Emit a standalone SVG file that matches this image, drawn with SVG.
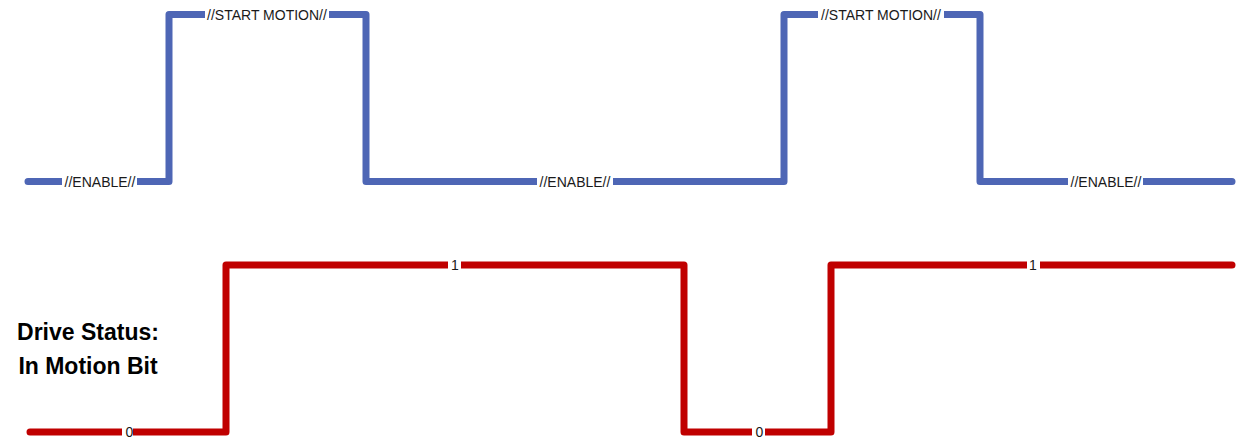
<svg xmlns="http://www.w3.org/2000/svg" width="1236" height="438" viewBox="0 0 1236 438">
<style>
.sig{fill:none;stroke-width:7;stroke-linecap:round;stroke-linejoin:round}
.blue{stroke:#4E66B5}
.red{stroke:#C00000}
.gap{fill:#fff}
.lbl{font-family:"Liberation Sans",Arial,sans-serif;font-size:14px;fill:#1a1a1a;text-anchor:middle}
.title{font-family:"Liberation Sans",Arial,sans-serif;font-size:23px;font-weight:bold;fill:#000;text-anchor:middle}
</style>
<rect width="1236" height="438" fill="#fff"/>
<g id="connectors">
<path id="motion-signal" class="sig blue" d="M28 181.5 H169 V14.5 H366 V181.5 H784 V14.5 H980 V181.5 H1232"/>
<path id="in-motion-bit" class="sig red" d="M30 432 H226 V265 H684 V432 H831 V265 H1232"/>
</g>
<g id="label-enable-1"><rect class="gap" x="62" y="175" width="75" height="14"/><text class="lbl" x="100" y="187">//ENABLE//</text></g>
<g id="label-start-1"><rect class="gap" x="205" y="8" width="124" height="14"/><text class="lbl" x="267" y="20">//START MOTION//</text></g>
<g id="label-enable-2"><rect class="gap" x="537" y="175" width="76" height="14"/><text class="lbl" x="575" y="187">//ENABLE//</text></g>
<g id="label-start-2"><rect class="gap" x="818" y="8" width="126" height="14"/><text class="lbl" x="881" y="20">//START MOTION//</text></g>
<g id="label-enable-3"><rect class="gap" x="1068" y="175" width="75" height="14"/><text class="lbl" x="1106" y="187">//ENABLE//</text></g>
<g id="label-0-1"><rect class="gap" x="122" y="426" width="11" height="12"/><text class="lbl" x="129.5" y="437">0</text></g>
<g id="label-1-1"><rect class="gap" x="448" y="259" width="13" height="12"/><text class="lbl" x="455" y="270">1</text></g>
<g id="label-0-2"><rect class="gap" x="752" y="426" width="13" height="12"/><text class="lbl" x="759.5" y="437">0</text></g>
<g id="label-1-2"><rect class="gap" x="1027" y="259" width="13" height="12"/><text class="lbl" x="1033" y="270">1</text></g>
<g id="title"><text class="title" x="88" y="340">Drive Status:</text><text class="title" x="88" y="374">In Motion Bit</text></g>
</svg>
